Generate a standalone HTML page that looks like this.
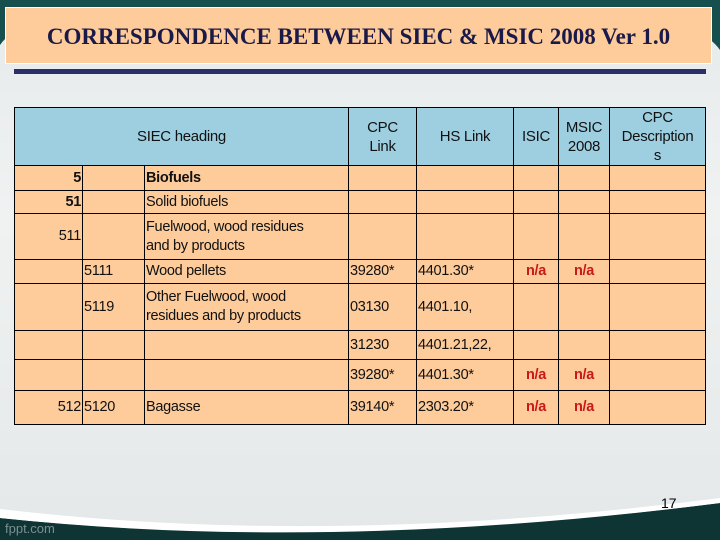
<!DOCTYPE html>
<html><head><style>
*{margin:0;padding:0;box-sizing:border-box}
body{width:720px;height:540px;overflow:hidden;position:relative;font-family:"Liberation Sans",sans-serif;background:linear-gradient(180deg,#e6eaeb 0%,#f0f2f2 40%,#e4e8e8 100%)}
svg.bg{position:absolute;left:0;top:0}
.title{position:absolute;left:5px;top:7px;width:707px;height:57px;background:#fecc9a;border:1px solid #fff;font-family:"Liberation Serif",serif;font-weight:bold;font-size:23px;color:#1a1a4a;text-align:center;line-height:58px;letter-spacing:0}
.bar{position:absolute;left:14px;top:69px;width:692px;height:5px;background:#2a2f6a}
table{position:absolute;left:14px;top:107px;border-collapse:collapse;width:691px;table-layout:fixed;font-size:14.5px;color:#111;letter-spacing:-0.3px}
td{border:1px solid #000;background:#fecc9a;padding:0 1px;vertical-align:middle;line-height:19px;overflow:hidden;white-space:normal}
th{border:1px solid #000;background:#9ecfe0;font-weight:normal;font-size:15px;line-height:19px;text-align:center;overflow:hidden}
.r{text-align:right}.b{font-weight:bold}.na{color:#c81818;font-weight:bold;text-align:center}
.pn{position:absolute;left:661px;top:495px;font-size:14px}
.fp{position:absolute;left:5px;top:521px;font-size:13px;color:#7a9090}
</style></head><body>
<svg class="bg" width="720" height="540">
<path d="M0,0 H720 V50 Q700,20 600,8 H120 Q20,15 0,45 Z" fill="#15504f"/>
<path d="M0,518 Q330,552 720,503 V540 H0 Z" fill="#0f3434"/>
<path d="M0,509 Q330,548 720,498 L720,503 Q330,553 0,518 Z" fill="#ffffff"/>
</svg>
<div class="title">CORRESPONDENCE BETWEEN SIEC &amp; MSIC 2008 Ver 1.0</div>
<div class="bar"></div>
<table>
<colgroup><col style="width:68px"><col style="width:62px"><col style="width:204px"><col style="width:68px"><col style="width:97px"><col style="width:45px"><col style="width:51px"><col style="width:96px"></colgroup>
<tr style="height:57px"><th colspan="3">SIEC heading</th><th>CPC<br>Link</th><th>HS Link</th><th>ISIC</th><th>MSIC<br>2008</th><th>CPC<br>Description<br>s</th></tr>
<tr style="height:25px"><td class="r b">5</td><td></td><td class="b">Biofuels</td><td></td><td></td><td></td><td></td><td></td></tr>
<tr style="height:23px"><td class="r b">51</td><td></td><td>Solid biofuels</td><td></td><td></td><td></td><td></td><td></td></tr>
<tr style="height:46px"><td class="r">511</td><td></td><td>Fuelwood, wood residues<br>and by products</td><td></td><td></td><td></td><td></td><td></td></tr>
<tr style="height:24px"><td></td><td>5111</td><td>Wood pellets</td><td>39280*</td><td>4401.30*</td><td class="na">n/a</td><td class="na">n/a</td><td></td></tr>
<tr style="height:47px"><td></td><td>5119</td><td>Other Fuelwood, wood<br>residues and by products</td><td>03130</td><td>4401.10,</td><td></td><td></td><td></td></tr>
<tr style="height:29px"><td></td><td></td><td></td><td>31230</td><td>4401.21,22,</td><td></td><td></td><td></td></tr>
<tr style="height:31px"><td></td><td></td><td></td><td>39280*</td><td>4401.30*</td><td class="na">n/a</td><td class="na">n/a</td><td></td></tr>
<tr style="height:34px"><td class="r">512</td><td>5120</td><td>Bagasse</td><td>39140*</td><td>2303.20*</td><td class="na">n/a</td><td class="na">n/a</td><td></td></tr>
</table>
<div class="pn">17</div>
<div class="fp">fppt.com</div>
</body></html>
